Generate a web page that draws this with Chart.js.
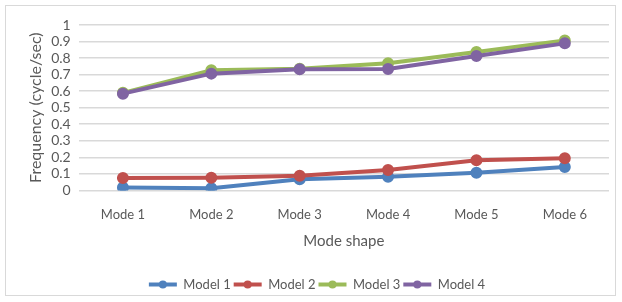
<!DOCTYPE html>
<html>
<head>
<meta charset="utf-8">
<script src="https://cdn.jsdelivr.net/npm/chart.js@4"></script>
<style>
  html, body { margin: 0; padding: 0; background: #fff; }
  #wrap { position: absolute; left: 5px; top: 5px; width: 611px; height: 291px; border: 1px solid #d9d9d9; box-sizing: border-box; }
  canvas { display: block; }
</style>
</head>
<body>
<div id="wrap"><canvas id="chart" width="611" height="291"></canvas></div>
<script>
// values
const modes = ['Mode 1', 'Mode 2', 'Mode 3', 'Mode 4', 'Mode 5', 'Mode 6'];
const seriesNames = ['Model 1', 'Model 2', 'Model 3', 'Model 4'];
const model1 = [0.017, 0.013, 0.068, 0.083, 0.106, 0.142];
const model2 = [0.075, 0.077, 0.088, 0.124, 0.182, 0.195];
const model3 = [0.590, 0.726, 0.735, 0.769, 0.837, 0.907];
const model4 = [0.585, 0.706, 0.732, 0.734, 0.813, 0.889];
const yTickLabels = ['0', '0.1', '0.2', '0.3', '0.4', '0.5', '0.6', '0.7', '0.8', '0.9', '1'];
const colors = ['#4f81bd', '#c0504d', '#9bbb59', '#8064a2'];

const font = "Lato, 'Open Sans', sans-serif";
const textColor = '#595959';

// put a round marker in the middle of each legend line, like the original
const legendDots = {
    id: 'legendDots',
    afterDraw(chart) {
        const lg = chart.legend;
        if (!lg || !lg.legendHitBoxes) return;
        const c = chart.ctx;
        lg.legendHitBoxes.forEach((box, i) => {
            c.save();
            c.fillStyle = colors[i];
            c.beginPath();
            c.arc(box.left + 14, box.top + box.height / 2, 4, 0, Math.PI * 2);
            c.fill();
            c.restore();
        });
    }
};

const ctx = document.getElementById('chart').getContext('2d');
new Chart(ctx, {
    type: 'line',
    data: {
        labels: modes,
        datasets: [model1, model2, model3, model4].map((vals, i) => ({
            label: seriesNames[i],
            data: vals,
            borderColor: colors[i],
            backgroundColor: colors[i],
            borderWidth: 4,
            pointRadius: 4,
            pointHoverRadius: 4,
            pointStyle: 'circle',
            tension: 0,
            order: 3 - i // later series drawn on top
        }))
    },
    plugins: [legendDots],
    options: {
        responsive: false,
        animation: false,
        layout: { padding: { left: 16, right: 5, top: 19, bottom: -4 } },
        plugins: {
            tooltip: { enabled: false },
            legend: {
                position: 'bottom',
                labels: {
                    sort: (a, b) => a.datasetIndex - b.datasetIndex,
                    usePointStyle: true,
                    pointStyle: 'line',
                    pointStyleWidth: 28,
                    boxWidth: 28,
                    padding: 3,
                    color: textColor,
                    font: { family: font, size: 13 }
                }
            }
        },
        scales: {
            x: {
                offset: true,
                grid: { display: false },
                border: { display: false },
                ticks: { color: textColor, font: { family: font, size: 13 }, padding: 9 },
                title: { display: true, text: 'Mode shape', color: textColor, font: { family: font, size: 15 }, padding: { top: 0, bottom: 25 } }
            },
            y: {
                min: 0,
                max: 1,
                ticks: {
                    stepSize: 0.1,
                    autoSkip: false,
                    color: textColor,
                    font: { family: font, size: 14 },
                    padding: 8,
                    callback: (v, i) => yTickLabels[i]
                },
                grid: { color: '#d9d9d9', lineWidth: 1.5, drawTicks: false },
                border: { display: false },
                title: { display: true, text: 'Frequency (cycle/sec)', color: textColor, font: { family: font, size: 16 }, padding: { bottom: -2 } }
            }
        }
    }
});
</script>
</body>
</html>
